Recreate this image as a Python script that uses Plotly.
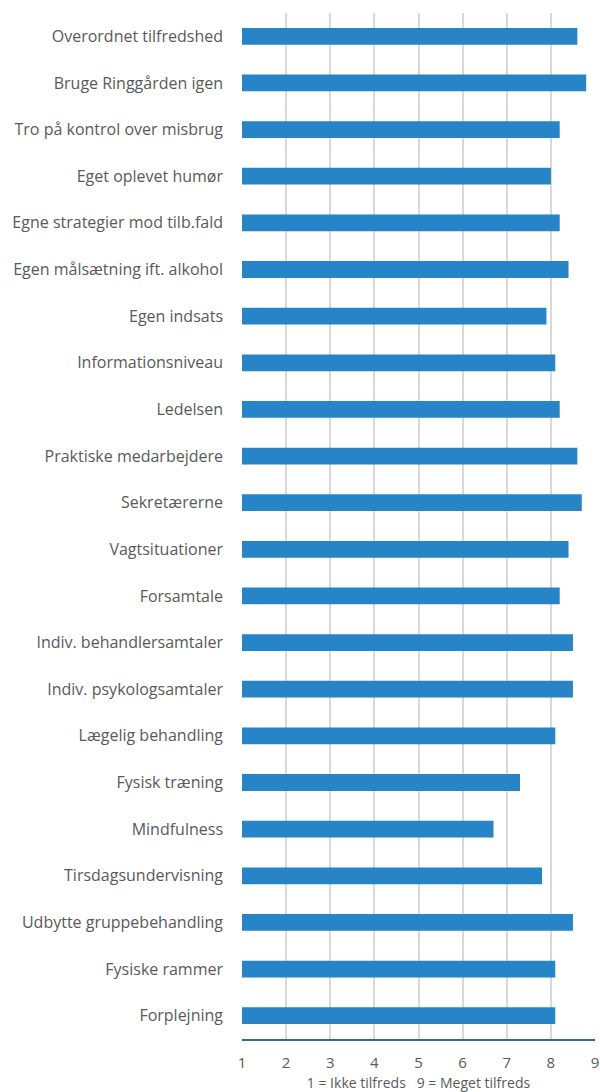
import plotly.graph_objects as go

categories = [
    "Overordnet tilfredshed",
    "Bruge Ringgården igen",
    "Tro på kontrol over misbrug",
    "Eget oplevet humør",
    "Egne strategier mod tilb.fald",
    "Egen målsætning ift. alkohol",
    "Egen indsats",
    "Informationsniveau",
    "Ledelsen",
    "Praktiske medarbejdere",
    "Sekretærerne",
    "Vagtsituationer",
    "Forsamtale",
    "Indiv. behandlersamtaler",
    "Indiv. psykologsamtaler",
    "Lægelig behandling",
    "Fysisk træning",
    "Mindfulness",
    "Tirsdagsundervisning",
    "Udbytte gruppebehandling",
    "Fysiske rammer",
    "Forplejning",
]
values = [8.6, 8.8, 8.2, 8.0, 8.2, 8.4, 7.9, 8.1, 8.2, 8.6, 8.7,
          8.4, 8.2, 8.5, 8.5, 8.1, 7.3, 6.7, 7.8, 8.5, 8.1, 8.1]
tick_vals = [1, 2, 3, 4, 5, 6, 7, 8, 9]
axis_title = "1 = Ikke tilfreds   9 = Meget tilfreds"

fig = go.Figure(
    go.Bar(
        x=values,
        y=categories,
        orientation="h",
        base=0,
        marker=dict(color="#2784c7", line=dict(width=0)),
        width=0.36,
    )
)

fig.update_layout(
    width=600,
    height=1092,
    margin=dict(l=242, r=5, t=13, b=53),
    paper_bgcolor="white",
    plot_bgcolor="white",
    showlegend=False,
    font=dict(family="Open Sans", color="#595959"),
)
fig.update_xaxes(
    range=[1, 9],
    tickvals=tick_vals,
    ticktext=[str(t) for t in tick_vals],
    showgrid=True,
    gridcolor="#d9d9d9",
    gridwidth=1.5,
    zeroline=False,
    showline=True,
    linecolor="#2b6a8c",
    linewidth=2,
    ticks="",
    automargin=False,
    ticklabelstandoff=9,
    tickfont=dict(size=15, color="#595959"),
    title=dict(text=axis_title, font=dict(size=14, color="#595959"), standoff=8),
)
fig.update_yaxes(
    autorange="reversed",
    showgrid=False,
    zeroline=False,
    showline=False,
    ticks="",
    automargin=False,
    ticklabelstandoff=18,
    tickfont=dict(size=16, color="#595959"),
)

fig.write_html(
    "out.html",
    config={"displayModeBar": False},
    post_script="document.body.style.margin='0';document.body.style.overflow='hidden';",
)
